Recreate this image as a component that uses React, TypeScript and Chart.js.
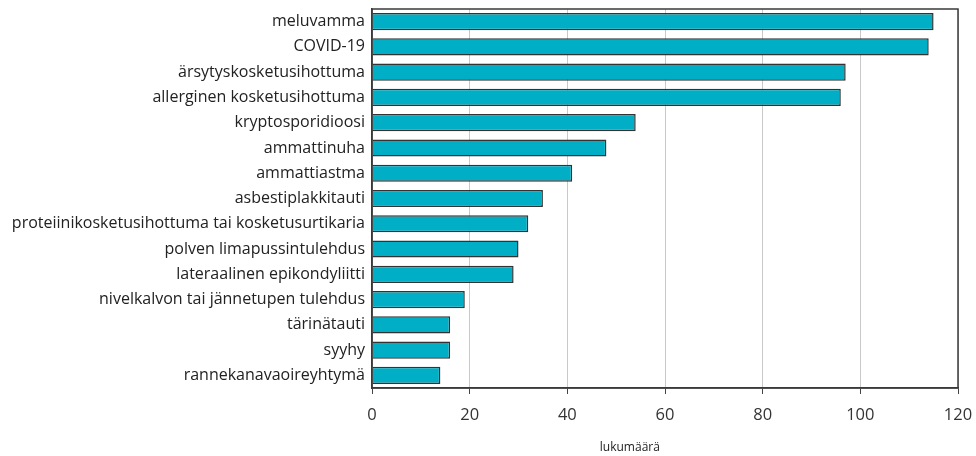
import React, { useEffect, useRef } from "react";
import { Chart, registerables } from "chart.js";

Chart.register(...registerables);

const categories = [
  "meluvamma",
  "COVID-19",
  "ärsytyskosketusihottuma",
  "allerginen kosketusihottuma",
  "kryptosporidioosi",
  "ammattinuha",
  "ammattiastma",
  "asbestiplakkitauti",
  "proteiinikosketusihottuma tai kosketusurtikaria",
  "polven limapussintulehdus",
  "lateraalinen epikondyliitti",
  "nivelkalvon tai jännetupen tulehdus",
  "tärinätauti",
  "syyhy",
  "rannekanavaoireyhtymä",
];
const counts = [115, 114, 97, 96, 54, 48, 41, 35, 32, 30, 29, 19, 16, 16, 14];
const xTicks = [0, 20, 40, 60, 80, 100, 120];
const axisTitle = "lukumäärä";

const FONT = "'Open Sans', 'Noto Sans', sans-serif";

const framePlugin = {
  id: "frame",
  afterDraw(chart: any) {
    const { ctx, chartArea } = chart;
    ctx.save();
    ctx.strokeStyle = "#3a3a3a";
    ctx.lineWidth = 1.5;
    ctx.strokeRect(chartArea.left, chartArea.top, chartArea.right - chartArea.left, chartArea.bottom - chartArea.top);
    ctx.fillStyle = "#222";
    ctx.font = `12px ${FONT}`;
    ctx.textAlign = "center";
    ctx.textBaseline = "middle";
    const x = chartArea.left + (chartArea.right - chartArea.left) * 0.44;
    ctx.fillText(axisTitle, x, chartArea.bottom + 60);
    ctx.restore();
  },
};

export default function App() {
  const ref = useRef<HTMLCanvasElement | null>(null);
  useEffect(() => {
    if (!ref.current) return;
    const chart = new Chart(ref.current, {
      type: "bar",
      data: {
        labels: categories,
        datasets: [
          {
            data: counts,
            backgroundColor: "#00afc6",
            borderColor: "#333",
            borderWidth: 1.5,
            barPercentage: 0.68,
            categoryPercentage: 1,
          },
        ],
      },
      options: {
        indexAxis: "y",
        animation: false,
        responsive: false,
        maintainAspectRatio: false,
        layout: { padding: { top: 9, right: 18, left: 0, bottom: 0 } },
        plugins: { legend: { display: false }, tooltip: { enabled: false } },
        scales: {
          x: {
            min: 0,
            max: 120,
            afterBuildTicks: (s: any) => {
              s.ticks = xTicks.map((v) => ({ value: v }));
            },
            afterFit: (s: any) => {
              s.height = 68;
              s.paddingLeft = 0;
              s.paddingRight = 0;
            },
            grid: { color: "#c9c9c9", lineWidth: 1, tickLength: 6, tickColor: "#444" },
            border: { display: true, color: "#3a3a3a", width: 1.5 },
            ticks: { color: "#333", font: { family: FONT, size: 16.5 }, padding: 11 },
          },
          y: {
            afterFit: (s: any) => {
              s.width = 372;
              s.paddingTop = 0;
              s.paddingBottom = 0;
            },
            grid: { display: false, drawTicks: false },
            border: { display: true, color: "#3a3a3a", width: 1.5 },
            ticks: { color: "#222", font: { family: FONT, size: 16 }, padding: 7, autoSkip: false },
          },
        },
      },
      plugins: [framePlugin],
    });
    return () => chart.destroy();
  }, []);
  return (
    <div style={{ position: "absolute", left: 0, top: 0, width: 976, height: 456 }}>
      <canvas ref={ref} width={976} height={456} style={{ width: 976, height: 456, display: "block" }} />
    </div>
  );
}
